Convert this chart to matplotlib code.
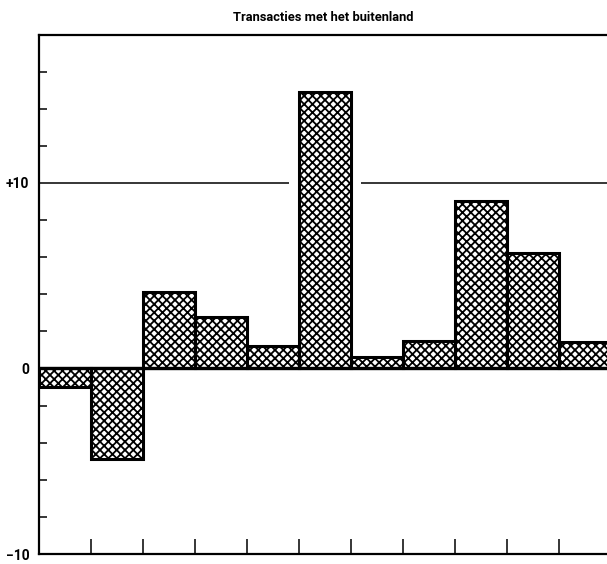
import matplotlib
matplotlib.use("Agg")
import matplotlib.pyplot as plt
from matplotlib.ticker import FixedLocator, MultipleLocator
import numpy as np

# Balance of transactions with other countries, one value per period
title = "Transacties met het buitenland"
values = [-1.0, -4.9, 4.1, 2.8, 1.2, 14.9, 0.6, 1.5, 9.0, 6.2, 1.4]
ytick_values = [-10, 0, 10]
ytick_labels = ["\u221210", "0", "+10"]

plt.rcParams["hatch.linewidth"] = 1.3
plt.rcParams["hatch.color"] = "black"
font = ["Liberation Sans Narrow", "Roboto", "DejaVu Sans"]

fig = plt.figure(figsize=(6.07, 5.64), dpi=100)
ax = fig.add_axes([39 / 607, 10 / 564, 1 - 39 / 607, (554 - 34.5) / 564])

positions = np.arange(len(values))
ax.bar(positions, values, width=1.0, align="edge", bottom=0,
       facecolor="white", edgecolor="black", linewidth=2.2,
       hatch="xxxx", zorder=3)

# zero line and the +10 reference line (broken around the tallest bar)
ax.axhline(0, color="black", linewidth=2.4, zorder=4)
ax.hlines(10, 0, 4.8, color="black", linewidth=1.1, zorder=1)
ax.hlines(10, 6.2, 11.5, color="black", linewidth=1.1, zorder=1)

ax.set_xlim(0, (607 - 39) / 52)
ax.set_ylim(-10, 18)

ax.spines["right"].set_visible(False)
for side in ("left", "top", "bottom"):
    ax.spines[side].set_linewidth(1.6)

ax.xaxis.set_major_locator(FixedLocator(positions[1:]))
ax.set_xticklabels([])
ax.tick_params(axis="x", direction="in", length=11, width=1.1)

ax.yaxis.set_major_locator(FixedLocator(ytick_values))
ax.set_yticklabels(ytick_labels, fontfamily=font, fontweight="bold", fontsize=10)
ax.yaxis.set_minor_locator(MultipleLocator(2))
ax.tick_params(axis="y", which="major", direction="in", length=0, pad=7)
ax.tick_params(axis="y", which="minor", direction="in", length=6, width=1.1)

ax.set_title(title, fontfamily=font, fontweight="bold", fontsize=9.3, pad=10)

fig.savefig("out.png", dpi=100)
